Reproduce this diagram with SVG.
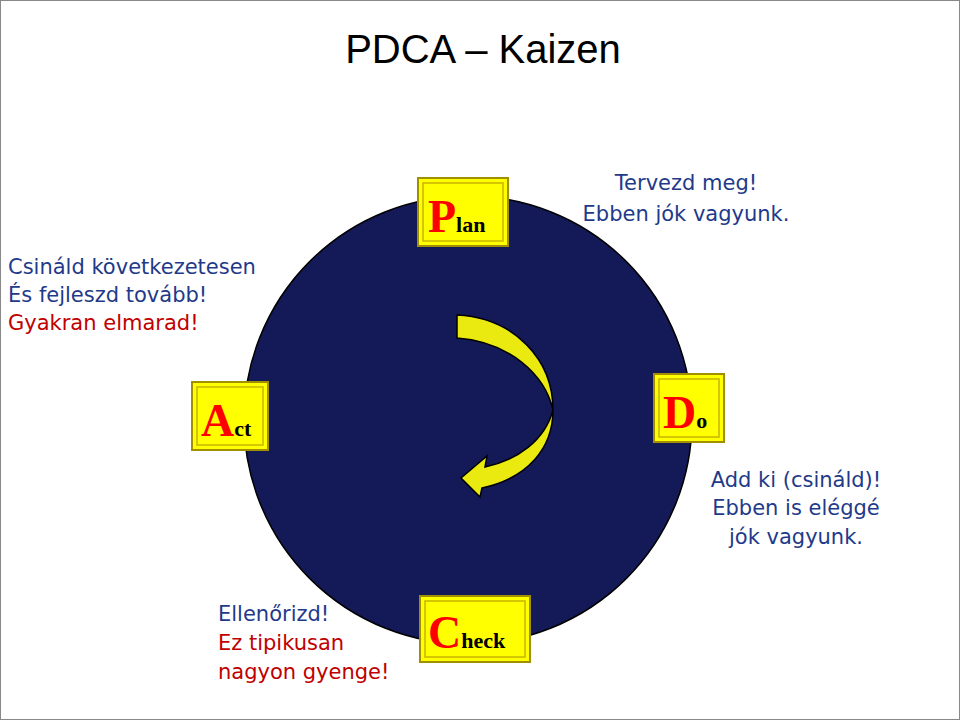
<svg xmlns="http://www.w3.org/2000/svg" width="960" height="720" viewBox="0 0 960 720">
<defs>
<style>
.box{fill:#ffff00;stroke:#a09000;stroke-width:2}
.inner{fill:none;stroke:#c8b400;stroke-width:1.5}
.big{font-family:"Liberation Serif",serif;font-weight:bold;fill:#ff0000;font-size:46px}
.small{font-family:"Liberation Serif",serif;fill:#000;font-size:22px}
.t{font-family:"DejaVu Sans",sans-serif;font-size:21px}
</style>
</defs>
<rect x="0.5" y="0.5" width="959" height="719" fill="#fff" stroke="#888"/>
<text x="483" y="63" text-anchor="middle" font-family="Liberation Sans, sans-serif" font-size="40" fill="#000">PDCA – Kaizen</text>
<g id="circle"><circle cx="468" cy="420" r="224" fill="#141a58" stroke="#000" stroke-width="1.5"/></g>
<g id="connectors">
<path d="M457,315 C515,318 553,360 553,410 C553,448 528,478 482,488 L480,497 L461,478 L487,456 L485,467 C518,460 545,440 553,410 C545,375 510,342 457,338 Z" fill="#eaea10" stroke="#000" stroke-width="1.5"/>
</g>
<g id="plan"><rect class="box" x="418" y="178" width="90" height="68"/><rect class="inner" x="423" y="183" width="80" height="58"/><text x="428" y="232" class="big">P<tspan class="small" font-size="22">lan</tspan></text></g>
<g id="act"><rect class="box" x="192" y="382" width="76" height="68"/><rect class="inner" x="197" y="387" width="66" height="58"/><text x="201" y="436" class="big">A<tspan class="small">ct</tspan></text></g>
<g id="do"><rect class="box" x="654" y="374" width="70" height="68"/><rect class="inner" x="659" y="379" width="60" height="58"/><text x="663" y="428" class="big">D<tspan class="small">o</tspan></text></g>
<g id="check"><rect class="box" x="420" y="596" width="110" height="66"/><rect class="inner" x="425" y="601" width="100" height="56"/><text x="428" y="648" class="big">C<tspan class="small">heck</tspan></text></g>
<g id="texts" class="t">
<text x="686" y="190" text-anchor="middle" fill="#1f3a8a">Tervezd meg!</text>
<text x="686" y="221" text-anchor="middle" fill="#1f3a8a">Ebben jók vagyunk.</text>
<text x="8" y="274" fill="#1f3a8a">Csináld következetesen</text>
<text x="8" y="302" fill="#1f3a8a">És fejleszd tovább!</text>
<text x="8" y="330" fill="#c00000">Gyakran elmarad!</text>
<text x="796" y="487" text-anchor="middle" fill="#1f3a8a">Add ki (csináld)!</text>
<text x="796" y="515" text-anchor="middle" fill="#1f3a8a">Ebben is eléggé</text>
<text x="796" y="544" text-anchor="middle" fill="#1f3a8a">jók vagyunk.</text>
<text x="218" y="621" fill="#1f3a8a">Ellenőrizd!</text>
<text x="218" y="650" fill="#c00000">Ez tipikusan</text>
<text x="218" y="679" fill="#c00000">nagyon gyenge!</text>
</g>
</svg>
